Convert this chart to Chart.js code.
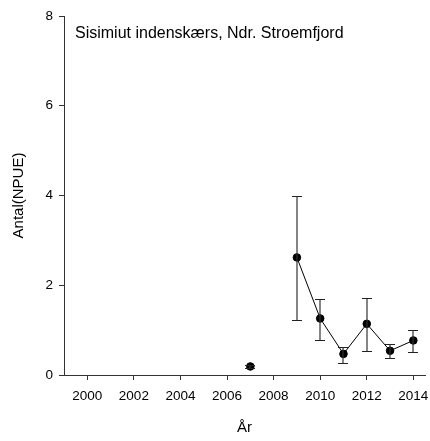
<!DOCTYPE html>
<html><head><meta charset="utf-8">
<script src="https://cdn.jsdelivr.net/npm/chart.js@4"></script>
<style>html,body{margin:0;padding:0;background:#fff}#wrap{width:430px;height:441px}</style>
</head><body><div id="wrap"><canvas id="c" width="430" height="441"></canvas></div>
<script>
const years = [2007, 2008, 2009, 2010, 2011, 2012, 2013, 2014];
const npue  = [0.19, null, 2.62, 1.26, 0.47, 1.14, 0.54, 0.77];
const upper = [0.23, null, 4.00, 1.70, 0.62, 1.71, 0.68, 1.00];
const lower = [0.15, null, 1.23, 0.77, 0.27, 0.53, 0.37, 0.51];
const xTicks = [2000, 2002, 2004, 2006, 2008, 2010, 2012, 2014];
const yTicks = [0, 2, 4, 6, 8];
const titleText = 'Sisimiut indenskærs, Ndr. Stroemfjord';
const xTitle = 'År';
const yTitle = 'Antal(NPUE)';

const FONT = '"Liberation Sans", Arial, sans-serif';
const AX = '#333';

const errorBars = {
  id: 'errorBars',
  afterDatasetsDraw(chart) {
    const ctx = chart.ctx, xs = chart.scales.x, ys = chart.scales.y;
    ctx.save();
    years.forEach((yr, i) => {
      if (npue[i] == null) return;
      const px = Math.round(xs.getPixelForValue(yr));
      const pt = Math.round(ys.getPixelForValue(upper[i])) + 0.5;
      const pb = Math.round(ys.getPixelForValue(lower[i])) + 0.5;
      ctx.strokeStyle = '#333';
      ctx.lineWidth = 1.2;
      ctx.beginPath();
      ctx.moveTo(px, pt); ctx.lineTo(px, pb);
      ctx.stroke();
      ctx.strokeStyle = '#222';
      ctx.lineWidth = 1;
      ctx.beginPath();
      ctx.moveTo(px - 5, pt); ctx.lineTo(px + 5, pt);
      ctx.moveTo(px - 5, pb); ctx.lineTo(px + 5, pb);
      ctx.stroke();
    });
    ctx.restore();
  }
};

const panelTitle = {
  id: 'panelTitle',
  afterDraw(chart) {
    const ctx = chart.ctx;
    ctx.save();
    ctx.fillStyle = '#000';
    ctx.font = '16px ' + FONT;
    ctx.textBaseline = 'middle';
    ctx.fillText(titleText, chart.chartArea.left + 11, 34);
    ctx.restore();
  }
};

new Chart(document.getElementById('c'), {
  type: 'line',
  data: {
    datasets: [{
      data: years.map((x, i) => ({x: x, y: npue[i]})),
      borderColor: '#000',
      borderWidth: 1,
      backgroundColor: '#000',
      pointBackgroundColor: '#000',
      pointBorderColor: '#000',
      pointRadius: 3.8,
      spanGaps: false,
      tension: 0
    }]
  },
  options: {
    responsive: false,
    animation: false,
    devicePixelRatio: 1,
    layout: {padding: {left: 0, right: 0, top: 16, bottom: 0}},
    plugins: {legend: {display: false}, tooltip: {enabled: false}},
    scales: {
      x: {
        type: 'linear', min: 1999, max: 2014.5,
        afterBuildTicks: s => { s.ticks = xTicks.map(v => ({value: v})); },
        afterFit: s => { s.height = 66; s.paddingRight = 0; s.paddingLeft = 0; },
        ticks: {color: '#000', font: {family: FONT, size: 13.5}, padding: 8, maxRotation: 0, callback: v => String(v)},
        grid: {drawOnChartArea: false, drawTicks: true, tickLength: 5, color: AX},
        border: {display: true, color: AX, width: 1},
        title: {display: true, text: xTitle, color: '#000', font: {family: FONT, size: 15}, padding: {top: 4, bottom: 4}}
      },
      y: {
        min: 0, max: 8,
        afterBuildTicks: s => { s.ticks = yTicks.map(v => ({value: v})); },
        afterFit: s => { s.width = 64; s.paddingTop = 0; s.paddingBottom = 0; },
        ticks: {color: '#000', font: {family: FONT, size: 13.5}, padding: 6},
        grid: {drawOnChartArea: false, drawTicks: true, tickLength: 5, color: AX},
        border: {display: true, color: AX, width: 1},
        title: {display: true, text: yTitle, color: '#000', font: {family: FONT, size: 15}, padding: {top: 10, bottom: 0}}
      }
    }
  },
  plugins: [errorBars, panelTitle]
});
</script></body></html>
